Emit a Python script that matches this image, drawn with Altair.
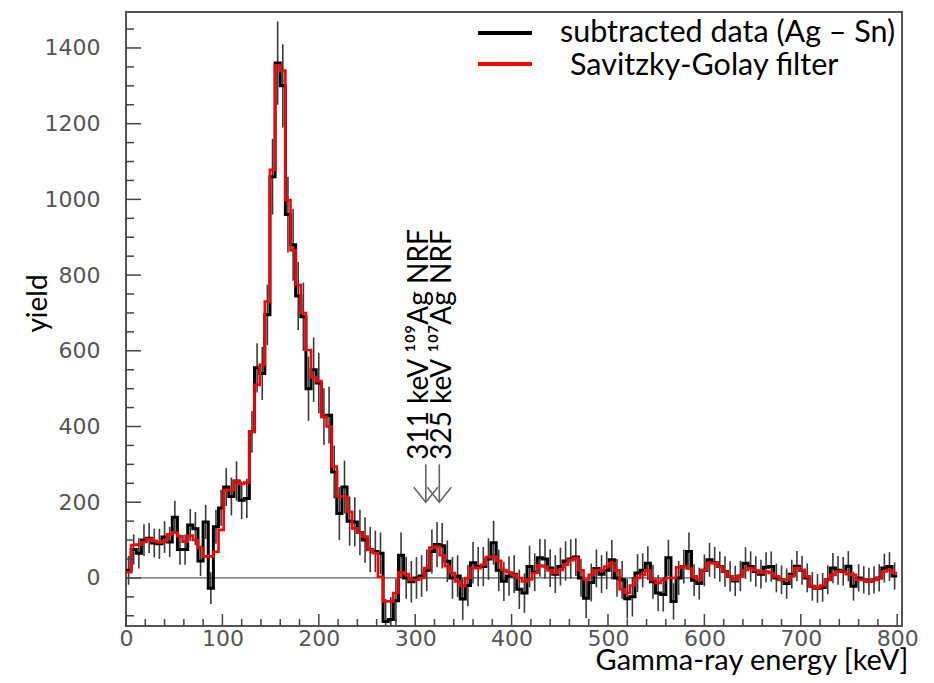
import altair as alt
import pandas as pd

# ---------------- data ----------------
bin_width = 800 / 150  # keV per bin

data_vals = [
    20, 75, 65, 100, 105, 92, 90, 108, 95, 160,
    75, 75, 140, 130, 45, 148, -27, 135, 185, 240,
    215, 256, 205, 210, 386, 555, 540, 695, 1060, 1360,
    1300, 960, 880, 745, 690, 500, 550, 515, 426, 430,
    280, 170, 240, 150, 148, 120, 100, 75, 70, 65,
    -115, -110, -60, 60, 0, -10, 0, 5, 20, 70,
    88, 85, 44, 0, 5, -56, -20, 40, 30, 30,
    50, 93, 20, -9, 5, 10, -30, -40, 30, 15,
    53, 50, 26, 10, 30, 45, 50, 55, 0, -54,
    -12, 25, 10, 20, 48, 0, -5, -55, -50, 13,
    20, 39, -10, -40, -44, 53, -62, 0, 30, 70,
    -6, -15, 20, 48, 40, 30, 17, 4, -8, 5,
    39, 30, 17, 10, 28, 30, 0, -5, -15, 10,
    31, 20, 0, -22, -28, -25, -5, 26, 20, 17,
    31, -22, 0, -5, -9, -5, 0, 26, 30, 5,
]

filter_vals = [
    15, 87, 88, 95, 103, 98, 94, 97, 115, 120,
    110, 96, 112, 100, 79, 57, 57, 69, 127, 232,
    232, 256, 248, 252, 386, 510, 563, 730, 1078, 1355,
    1340, 998, 866, 774, 700, 602, 530, 520, 426, 400,
    294, 215, 215, 175, 131, 120, 109, 74, 65, 3,
    -62, -62, -40, 15, 10, -5, -5, 0, 26, 80,
    83, 60, 31, 13, -9, -22, 0, 26, 26, 35,
    55, 56, 45, 21, 15, 8, 0, -9, -4, 13,
    33, 30, 20, 13, 21, 35, 47, 52, 20, -4,
    8, 21, 20, 30, 39, 20, -30, -40, -20, 0,
    8, 20, -4, -13, -5, 0, 0, 28, 30, 25,
    4, -5, 21, 39, 39, 30, 17, 4, -5, 4,
    21, 26, 20, 13, 17, 13, 4, -5, -5, 4,
    26, 21, 4, -22, -28, -20, -5, 8, 17, 17,
    10, 8, -5, -5, -9, -5, 0, 17, 21, 13,
]

err_vals = [
    38, 40, 40, 42, 40, 38, 40, 42, 40, 44,
    40, 40, 42, 44, 40, 45, 42, 45, 48, 50,
    50, 52, 50, 52, 55, 65, 70, 80, 100, 110,
    110, 100, 95, 90, 90, 85, 85, 80, 75, 75,
    70, 70, 70, 65, 65, 60, 60, 60, 55, 55,
    60, 60, 58, 60, 55, 55, 55, 55, 55, 58,
    60, 60, 55, 55, 55, 55, 55, 55, 52, 52,
    55, 58, 55, 52, 52, 50, 52, 52, 55, 50,
    50, 52, 50, 50, 50, 52, 52, 50, 50, 52,
    50, 50, 50, 50, 52, 50, 50, 52, 52, 50,
    45, 45, 45, 48, 45, 48, 48, 45, 45, 50,
    42, 42, 42, 45, 42, 40, 40, 40, 40, 40,
    42, 40, 40, 38, 40, 40, 38, 38, 40, 38,
    40, 38, 38, 38, 38, 38, 38, 40, 38, 38,
    40, 38, 36, 36, 36, 36, 36, 38, 38, 36,
]

series_names = ["subtracted data (Ag \u2013 Sn)", "Savitzky-Golay filter"]
series_colors = ["black", "#ff0000"]

x_major_ticks = [0, 100, 200, 300, 400, 500, 600, 700, 800]
x_minor_ticks = [v for v in range(20, 800, 20) if v % 100 != 0]
y_major_ticks = [0, 200, 400, 600, 800, 1000, 1200, 1400]
y_minor_ticks = [v for v in range(-100, 1500, 50) if v % 200 != 0]

nrf_energy = [311, 325]
nrf_label = ["311 keV \u00b9\u2070\u2079Ag NRF", "325 keV \u00b9\u2070\u2077Ag NRF"]
arrow_top = 300
arrow_tip = 200
label_start = 312
zero_line_end = 585

# ---------------- tables ----------------
def step_table(vals, name):
    rows = [{"e": i * bin_width, "y": v, "series": name, "o": i} for i, v in enumerate(vals)]
    rows.append({"e": 800.0, "y": vals[-1], "series": name, "o": len(vals)})
    return pd.DataFrame(rows)

df_data = step_table(data_vals, series_names[0])
df_filt = step_table(filter_vals, series_names[1])
df_err = pd.DataFrame({
    "c": [(i + 0.5) * bin_width for i in range(len(data_vals))],
    "lo": [v - e for v, e in zip(data_vals, err_vals)],
    "hi": [v + e for v, e in zip(data_vals, err_vals)],
})
df_zero = pd.DataFrame({"x0": [0], "x1": [zero_line_end], "y": [0]})
df_nrf = pd.DataFrame({"E": nrf_energy, "label": nrf_label,
                       "top": [arrow_top] * 2, "tip": [arrow_tip] * 2,
                       "ys": [label_start] * 2})

xscale = alt.Scale(domain=[0, 805], nice=False, zero=False)
yscale = alt.Scale(domain=[-127, 1495], nice=False, zero=False)

H = 614

xaxis = alt.Axis(values=x_major_ticks, title="Gamma-ray energy [keV]", labelPadding=2,
                 format="d", labelFlush=False,
                 titleX=782, titleY=43, titleAlign="right", titleBaseline="alphabetic",
                 titleFontSize=29)
yaxis = alt.Axis(values=y_major_ticks, title="yield", labelPadding=26, format="d",
                 titleX=-88, titleY=291, titleAlign="center", titleBaseline="middle")


def X(field):
    return alt.X(field, scale=xscale, axis=xaxis)


def Y(field):
    return alt.Y(field, scale=yscale, axis=yaxis)


errbars = alt.Chart(df_err).mark_rule(color="#3a3a3a", strokeWidth=1.6, clip=True).encode(
    x=X("c:Q"), y=Y("lo:Q"), y2="hi:Q",
)

zero = alt.Chart(df_zero).mark_rule(color="#333", strokeWidth=1).encode(
    x=X("x0:Q"), x2="x1:Q", y=Y("y:Q"),
)

data_line = alt.Chart(df_data).mark_line(interpolate="step-after", strokeWidth=3, clip=True,
                                         color=series_colors[0]).encode(
    x=X("e:Q"), y=Y("y:Q"), order="o:Q",
)

filt_line = alt.Chart(df_filt).mark_line(interpolate="step-after", strokeWidth=2.6, clip=True,
                                         color=series_colors[1]).encode(
    x=X("e:Q"), y=Y("y:Q"), order="o:Q",
)


def yticks(vals, length):
    return alt.Chart(pd.DataFrame({"v": vals})).mark_rule(color="#444", strokeWidth=1.5).encode(
        y=Y("v:Q"), x=alt.value(0), x2=alt.value(length))


def xticks(vals, length):
    return alt.Chart(pd.DataFrame({"v": vals})).mark_rule(color="#444", strokeWidth=1.5).encode(
        x=X("v:Q"), y=alt.value(H), y2=alt.value(H - length))


shafts = alt.Chart(df_nrf).mark_rule(color="#666", strokeWidth=1.6).encode(
    x=X("E:Q"), y=Y("top:Q"), y2="tip:Q",
)
heads = alt.Chart(df_nrf).mark_point(shape="M-1,-1.25L0,0L1,-1.25", size=576, filled=False,
                                     color="#666", strokeWidth=1.6, opacity=1).encode(
    x=X("E:Q"), y=Y("tip:Q"),
)


def nrf_text(i, shift):
    return alt.Chart(df_nrf.iloc[[i]]).mark_text(angle=270, align="left", baseline="alphabetic",
                                                 font="Lato", fontSize=28, color="black",
                                                 dy=shift).encode(
        x=X("E:Q"), y=Y("ys:Q"), text="label:N",
    )


# legend (drawn in the top-right corner of the plot)
def legend_entry(i, line_y, text_x, text_y):
    src = pd.DataFrame({"t": [series_names[i]]})
    line = alt.Chart(src).mark_rule(color=series_colors[i], strokeWidth=4).encode(
        x=alt.value(352), x2=alt.value(406), y=alt.value(line_y))
    txt = alt.Chart(src).mark_text(align="left", baseline="alphabetic", font="Lato",
                                   fontSize=30.5, color="black").encode(
        x=alt.value(text_x), y=alt.value(text_y), text="t:N")
    return [line, txt]


chart = alt.layer(
    errbars, zero, data_line, filt_line,
    yticks(y_minor_ticks, 8), yticks(y_major_ticks, 15),
    xticks(x_minor_ticks, 7), xticks(x_major_ticks, 12),
    shafts, heads, nrf_text(0, 2), nrf_text(1, 12),
    *legend_entry(0, 21, 434, 30),
    *legend_entry(1, 52, 444, 63),
).properties(
    width=776, height=H,
    autosize=alt.AutoSizeParams(type="none"),
    padding={"left": 118, "top": 4, "right": 20, "bottom": 49},
    background="white",
).configure_view(
    stroke="#555", strokeWidth=2,
).configure_axis(
    grid=False, ticks=False, domain=False,
    labelFont="DejaVu Sans", labelFontSize=22, labelColor="#555",
    titleFont="Lato", titleFontSize=28, titleColor="black", titleFontWeight="normal",
)

chart.save("out.html", embed_options={"renderer": "svg", "actions": False})
